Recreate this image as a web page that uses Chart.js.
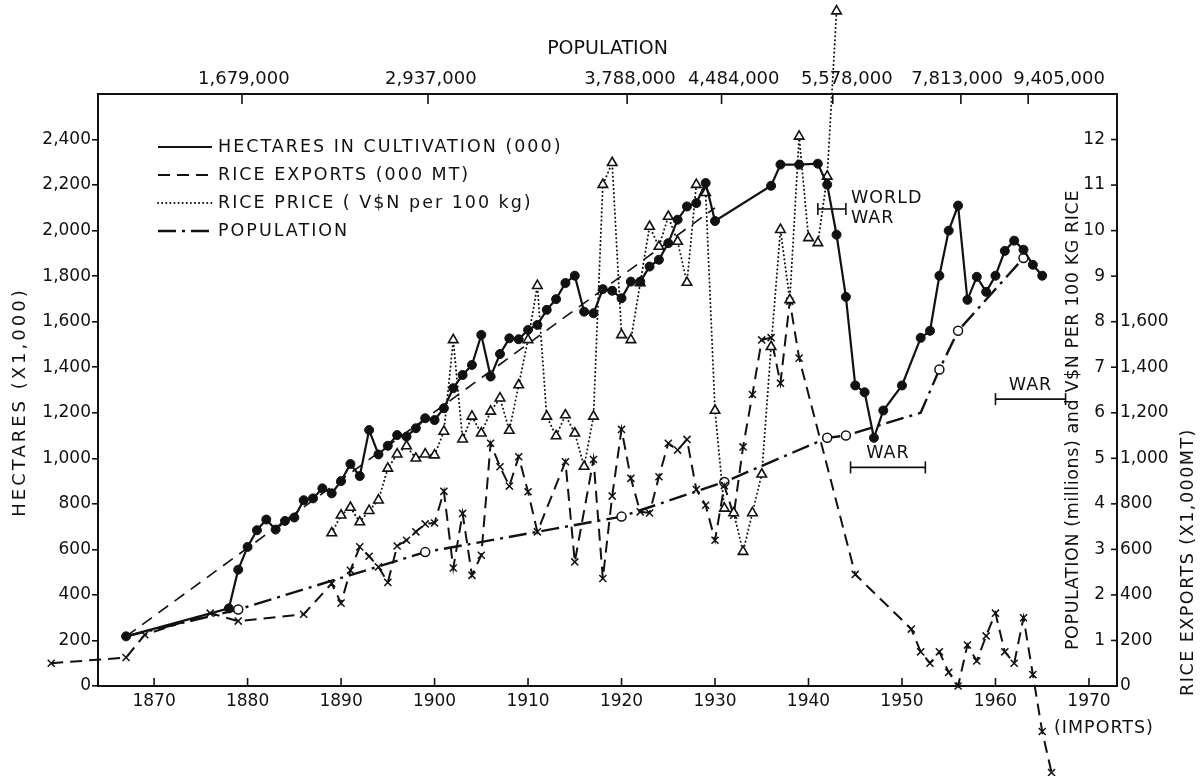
<!DOCTYPE html>
<html>
<head>
<meta charset="utf-8">
<script src="https://cdn.jsdelivr.net/npm/chart.js@4.4.0/dist/chart.umd.min.js"></script>
<style>
  body { margin: 0; background: #fff; }
  canvas { display: block; }
</style>
</head>
<body>
<canvas id="riceChart" width="1203" height="776"></canvas>
<script>
const ink = '#111'
const fontFamily = "'DejaVu Sans', sans-serif"

// hectares in cultivation (000)
const hectareYears = [1867, 1878, 1879, 1880, 1881, 1882, 1883, 1884, 1885, 1886, 1887, 1888, 1889,
  1890, 1891, 1892, 1893, 1894, 1895, 1896, 1897, 1898, 1899, 1900, 1901, 1902, 1903, 1904, 1905,
  1906, 1907, 1908, 1909, 1910, 1911, 1912, 1913, 1914, 1915, 1916, 1917, 1918, 1919, 1920, 1921,
  1922, 1923, 1924, 1925, 1926, 1927, 1928, 1929, 1930, 1936, 1937, 1939, 1941, 1942, 1943, 1944,
  1945, 1946, 1947, 1948, 1950, 1952, 1953, 1954, 1955, 1956, 1957, 1958, 1959, 1960, 1961, 1962,
  1963, 1964, 1965]
const hectareValues = [218, 341, 511, 611, 684, 731, 687, 725, 740, 816, 824, 868, 846,
  900, 975, 922, 1124, 1017, 1055, 1102, 1095, 1132, 1176, 1168, 1220, 1308, 1366, 1410, 1542,
  1359, 1458, 1527, 1523, 1564, 1586, 1652, 1699, 1770, 1802, 1644, 1637, 1743, 1736, 1703, 1776,
  1776, 1842, 1872, 1945, 2048, 2106, 2121, 2209, 2042, 2197, 2290, 2290, 2294, 2202, 1982, 1709,
  1320, 1290, 1090, 1210, 1320, 1529, 1560, 1802, 2000, 2110, 1696, 1797, 1731, 1802, 1911, 1956,
  1916, 1850, 1802]

// straight dashed trend of the hectares
const trendYears = [1867, 1930]
const trendValues = [218, 2100]

// rice exports (000 MT), negative = imports
const exportYears = [1859, 1867, 1869, 1876, 1879, 1886, 1889, 1890, 1891, 1892, 1893, 1894, 1895, 1896,
  1897, 1898, 1899, 1900, 1901, 1902, 1903, 1904, 1905, 1906, 1907, 1908, 1909, 1910, 1911, 1914,
  1915, 1917, 1918, 1919, 1920, 1921, 1922, 1923, 1924, 1925, 1926, 1927, 1928, 1929, 1930, 1931,
  1932, 1933, 1934, 1935, 1936, 1937, 1938, 1939, 1945, 1951, 1952, 1953, 1954, 1955, 1956, 1957,
  1958, 1959, 1960, 1961, 1962, 1963, 1964, 1965, 1966]
const exportValues = [100, 125, 225, 320, 285, 315, 450, 364, 508, 611, 570, 523, 455, 615,
  640, 677, 712, 716, 855, 518, 758, 486, 574, 1066, 963, 878, 1007, 853, 677, 985,
  545, 995, 472, 834, 1127, 912, 765, 760, 919, 1066, 1036, 1083, 863, 794, 640, 880,
  750, 1050, 1280, 1520, 1530, 1330, 1690, 1440, 490, 250, 150, 100, 150, 60, 0, 180,
  110, 220, 320, 150, 100, 300, 50, -200, -380]

// rice price (V$N per 100 kg)
const priceYears = [1889, 1890, 1891, 1892, 1893, 1894, 1895, 1896, 1897, 1898, 1899, 1900, 1901,
  1902, 1903, 1904, 1905, 1906, 1907, 1908, 1909, 1910, 1911, 1912, 1913, 1914, 1915, 1916, 1917,
  1918, 1919, 1920, 1921, 1922, 1923, 1924, 1925, 1926, 1927, 1928, 1929, 1930, 1931, 1932, 1933,
  1934, 1935, 1936, 1937, 1938, 1939, 1940, 1941, 1942, 1943]
const priceValues = [3.36, 3.75, 3.92, 3.6, 3.85, 4.08, 4.78, 5.09, 5.27, 5.0, 5.09, 5.07, 5.59,
  7.6, 5.42, 5.92, 5.55, 6.03, 6.32, 5.61, 6.61, 7.6, 8.79, 5.92, 5.49, 5.95, 5.55, 4.82, 5.92,
  11.01, 11.49, 7.71, 7.6, 8.85, 10.09, 9.65, 10.31, 9.76, 8.86, 11.01, 10.83, 6.05, 3.9, 3.8, 2.95,
  3.8, 4.65, 7.45, 10.02, 8.48, 12.07, 9.84, 9.73, 11.19, 14.82]

// population (millions)
const popYears = [1867, 1879, 1899, 1920, 1931, 1942, 1944, 1952, 1954, 1956, 1963]
const popValues = [1.09, 1.68, 2.94, 3.72, 4.48, 5.45, 5.5, 6.0, 6.95, 7.8, 9.4]

// axis ticks and labels
const yearTicks = [1870, 1880, 1890, 1900, 1910, 1920, 1930, 1940, 1950, 1960, 1970]
const hectareTicks = [0, 200, 400, 600, 800, 1000, 1200, 1400, 1600, 1800, 2000, 2200, 2400]
const priceTicks = [1, 2, 3, 4, 5, 6, 7, 8, 9, 10, 11, 12]
const exportTicks = [0, 200, 400, 600, 800, 1000, 1200, 1400, 1600]
const censusYears = [1879.4, 1899.3, 1920.6, 1930.7, 1942.6, 1956.3, 1963.5]
const censusLabels = ['1,679,000', '2,937,000', '3,788,000', '4,484,000', '5,578,000', '7,813,000', '9,405,000']
// where the census labels sit (they are not all centred on their ticks)
const censusLabelAt = [1879.6, 1899.6, 1920.9, 1932.0, 1944.1, 1955.9, 1966.8]

const wars = [
  { from: 1941, to: 1944, at: 2095, text: ['WORLD', 'WAR'], side: true },
  { from: 1944.5, to: 1952.5, at: 960, text: ['WAR'] },
  { from: 1960, to: 1967.5, at: 1260, text: ['WAR'] }
]

const xMin = 1864
const xMax = 1973
const yMax = 2600

function pts(xs, ys) {
  return xs.map(function (x, i) { return { x: x, y: ys[i] } })
}

function setTicks(values) {
  return function (scale) {
    scale.ticks = values.map(function (v) { return { value: v } })
  }
}

function font(size) {
  return { family: fontFamily, size: size }
}

var datasets = [{
  label: 'HECTARES IN CULTIVATION (000)',
  data: pts(hectareYears, hectareValues),
  yAxisID: 'y',
  borderColor: ink,
  backgroundColor: ink,
  borderWidth: 2.2,
  pointStyle: 'circle',
  pointRadius: 4.5,
  pointBorderWidth: 1,
  order: 1
}, {
  label: 'RICE PRICE ( V$N per 100 kg)',
  data: pts(priceYears, priceValues),
  yAxisID: 'yPrice',
  borderColor: ink,
  backgroundColor: '#fff',
  borderWidth: 2,
  borderDash: [0.1, 4],
  borderCapStyle: 'round',
  pointStyle: 'triangle',
  pointRadius: 5.5,
  pointBorderWidth: 1.6,
  order: 2
}, {
  label: 'RICE EXPORTS (000 MT)',
  data: pts(exportYears, exportValues),
  yAxisID: 'yExp',
  borderColor: ink,
  backgroundColor: ink,
  borderWidth: 2,
  borderDash: [12, 7],
  pointStyle: 'crossRot',
  pointRadius: 5,
  pointBorderWidth: 1.5,
  order: 3
}, {
  label: 'POPULATION',
  data: pts(popYears, popValues),
  yAxisID: 'yPrice',
  borderColor: ink,
  backgroundColor: '#fff',
  borderWidth: 2.4,
  borderDash: [18, 6, 3, 6],
  pointStyle: 'circle',
  pointRadius: function (c) { return c.dataIndex === 0 || c.dataIndex === 7 ? 0 : 4.5 },
  pointBorderWidth: 1.5,
  order: 4
}, {
  label: 'trend',
  data: pts(trendYears, trendValues),
  yAxisID: 'y',
  borderColor: ink,
  borderWidth: 1.6,
  borderDash: [12, 8],
  pointRadius: 0,
  order: 5
}]
datasets.forEach(function (d) { d.clip = false; d.tension = 0 })

var legendRows = [0, 2, 1, 3]
var everywhere = { left: -1e4, top: -1e4, right: 1e4, bottom: 1e4 }

function strokeLine(ctx, x1, y1, x2, y2) {
  ctx.beginPath()
  ctx.moveTo(x1, y1)
  ctx.lineTo(x2, y2)
  ctx.stroke()
}

function upText(ctx, text, cx, cy, size, spacing) {
  ctx.save()
  ctx.translate(cx, cy)
  ctx.rotate(-Math.PI / 2)
  ctx.font = size + 'px ' + fontFamily
  ctx.letterSpacing = spacing + 'px'
  ctx.textAlign = 'center'
  ctx.textBaseline = 'middle'
  ctx.fillText(text, 0, 0)
  ctx.restore()
}

const decor = {
  id: 'decor',
  afterDatasetsDraw(chart) {
    // markers that fall outside the plot frame (the library skips them)
    var ctx = chart.ctx
    var a = chart.chartArea
    chart.data.datasets.forEach(function (d, i) {
      chart.getDatasetMeta(i).data.forEach(function (el) {
        if (el.x < a.left || el.x > a.right || el.y < a.top || el.y > a.bottom) {
          el.draw(ctx, everywhere)
        }
      })
    })
  },
  afterDraw(chart) {
    var ctx = chart.ctx
    var a = chart.chartArea
    var x = chart.scales.x
    var yp = chart.scales.yPrice
    var y = chart.scales.y
    ctx.save()
    ctx.strokeStyle = ink
    ctx.fillStyle = ink
    ctx.lineWidth = 1.6

    // inward tick marks
    yearTicks.forEach(function (v) {
      var px = x.getPixelForValue(v)
      strokeLine(ctx, px, a.bottom, px, a.bottom - 8)
    })
    censusYears.forEach(function (v) {
      var px = x.getPixelForValue(v)
      strokeLine(ctx, px, a.top, px, a.top + 10)
    })
    priceTicks.forEach(function (v) {
      var py = yp.getPixelForValue(v)
      strokeLine(ctx, a.right, py, a.right - 6, py)
    })

    // legend
    ctx.font = '17.5px ' + fontFamily
    ctx.textBaseline = 'middle'
    legendRows.forEach(function (di, row) {
      var ds = chart.data.datasets[di]
      var ly = 147 + row * 28
      ctx.save()
      ctx.lineWidth = ds.borderWidth
      ctx.lineCap = ds.borderCapStyle || 'butt'
      ctx.setLineDash(ds.borderDash || [])
      strokeLine(ctx, 158, ly, 212, ly)
      ctx.restore()
      ctx.save()
      ctx.letterSpacing = '2px'
      ctx.fillText(ds.label, 218, ly)
      ctx.restore()
    })

    // axis titles, reading upwards
    upText(ctx, 'HECTARES (X1,000)', 20, 402, 18, 3)
    upText(ctx, 'POPULATION (millions) and V$N PER 100 KG RICE', 1073, 420, 17.5, 0.6)
    upText(ctx, 'RICE EXPORTS (X1,000MT)', 1188, 562, 17.5, 1.5)

    // war periods
    ctx.font = '17.5px ' + fontFamily
    ctx.letterSpacing = '1px'
    wars.forEach(function (w) {
      var x1 = x.getPixelForValue(w.from)
      var x2 = x.getPixelForValue(w.to)
      var wy = y.getPixelForValue(w.at)
      ctx.lineWidth = 1.6
      strokeLine(ctx, x1, wy, x2, wy)
      strokeLine(ctx, x1, wy - 6, x1, wy + 6)
      strokeLine(ctx, x2, wy - 6, x2, wy + 6)
      if (w.side) {
        ctx.textAlign = 'left'
        ctx.fillText(w.text[0], x2 + 5, wy - 11)
        ctx.fillText(w.text[1], x2 + 5, wy + 9)
      } else {
        ctx.textAlign = 'center'
        ctx.fillText(w.text[0], (x1 + x2) / 2, wy - 14)
      }
    })

    ctx.textAlign = 'left'
    ctx.fillText('(IMPORTS)', 1054, 728)
    ctx.restore()
  }
}

new Chart(document.getElementById('riceChart'), {
  type: 'line',
  data: { datasets: datasets },
  plugins: [decor],
  options: {
    responsive: false,
    animation: false,
    devicePixelRatio: 1,
    layout: { padding: 0 },
    plugins: { legend: { display: false }, tooltip: { enabled: false } },
    scales: {
      x: {
        type: 'linear', position: 'bottom', min: xMin, max: xMax,
        afterBuildTicks: setTicks(yearTicks),
        afterFit: function (s) { s.height = 90 },
        grid: { drawOnChartArea: false, drawTicks: false },
        border: { color: ink, width: 2 },
        ticks: { color: ink, font: font(17), padding: 5, maxRotation: 0, autoSkip: false,
          callback: function (v) { return String(v) } }
      },
      x2: {
        type: 'linear', position: 'top', min: xMin, max: xMax,
        afterBuildTicks: setTicks(censusLabelAt),
        afterFit: function (s) { s.height = 94 },
        grid: { drawOnChartArea: false, drawTicks: false },
        border: { color: ink, width: 2 },
        title: { display: true, text: 'POPULATION', color: ink, font: font(19), padding: { top: 38, bottom: 0 } },
        ticks: { color: ink, font: font(18), padding: 4, maxRotation: 0, autoSkip: false,
          callback: function (v, i) { return censusLabels[i] } }
      },
      y: {
        type: 'linear', position: 'left', min: 0, max: yMax,
        afterBuildTicks: setTicks(hectareTicks),
        afterFit: function (s) { s.width = 98 },
        grid: { drawOnChartArea: false, tickLength: 6, color: ink, lineWidth: 1.6 },
        border: { color: ink, width: 2 },
        ticks: { color: ink, font: font(17), padding: 1 }
      },
      yPrice: {
        type: 'linear', position: 'right', min: 0, max: yMax / 200,
        afterBuildTicks: setTicks(priceTicks),
        afterFit: function (s) { s.width = 0 },
        grid: { drawOnChartArea: false, drawTicks: false },
        border: { color: ink, width: 2 },
        ticks: { color: ink, font: font(17), mirror: true, padding: -12 }
      },
      yExp: {
        type: 'linear', position: 'right', min: 0, max: yMax, weight: 1,
        afterBuildTicks: setTicks(exportTicks),
        afterFit: function (s) { s.width = 86 },
        grid: { display: false, drawOnChartArea: false, drawTicks: false },
        border: { display: false },
        ticks: { color: ink, font: font(17), padding: 3 }
      }
    }
  }
})
</script>
</body>
</html>
